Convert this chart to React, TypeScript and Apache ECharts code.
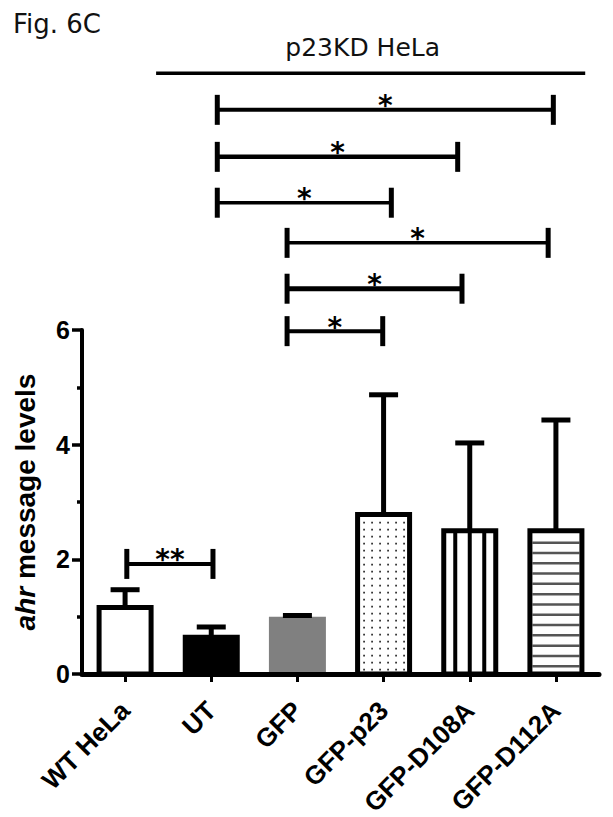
import React, { useEffect, useRef } from 'react';
import * as echarts from 'echarts';

// ---- data ----
const categories = ['WT HeLa', 'UT', 'GFP', 'GFP-p23', 'GFP-D108A', 'GFP-D112A'];
const means = [1.16, 0.64, 1.0, 2.78, 2.5, 2.5];
const sds = [0.31, 0.18, 0.02, 2.09, 1.53, 1.93];
const yMin = 0;
const yMax = 6;
const yInterval = 2;

// significance brackets: endpoints in category-index units, level in axis units
const bracketFrom = [1.07, 1.07, 1.07, 1.88, 1.88, 1.88, 0.02];
const bracketTo = [4.97, 3.86, 3.09, 4.91, 3.91, 2.99, 1.02];
const bracketLevel = [9.84, 9.02, 8.22, 7.52, 6.72, 5.98, 1.92];
const bracketLabel = ['*', '*', '*', '*', '*', '*', '**'];

// group line "p23KD HeLa"
const groupFrom = [0.36];
const groupTo = [5.34];
const groupLevel = [10.48];
const groupLabel = ['p23KD HeLa'];

// ---- styles ----
const barStyles = [
  { fill: '#ffffff', stroke: true, pattern: 'none' },
  { fill: '#000000', stroke: true, pattern: 'none' },
  { fill: '#808080', stroke: false, pattern: 'none' },
  { fill: '#ffffff', stroke: true, pattern: 'dots' },
  { fill: '#ffffff', stroke: true, pattern: 'vlines' },
  { fill: '#ffffff', stroke: true, pattern: 'hlines' },
];
const bracketWidths = [4, 4.5, 3.5, 3.5, 5, 4, 4];
const AX_FONT = '"Liberation Sans", Arial, sans-serif';
const TITLE_FONT = '"DejaVu Sans", sans-serif';

function renderBar(params: any, api: any) {
  const i = api.value(0);
  const v = api.value(1);
  const top = api.coord([i, v]);
  const base = api.coord([i, 0]);
  const cx = top[0];
  const ty = top[1];
  const by = base[1];
  const st = barStyles[i];
  const bw = 52;
  const bw2 = 57;
  const children: any[] = [];
  if (!st.stroke) {
    children.push({
      type: 'rect',
      shape: { x: cx - bw2 / 2, y: ty, width: bw2, height: by - ty },
      style: { fill: st.fill },
    });
    return { type: 'group', children };
  }
  const x0 = cx - bw / 2;
  children.push({
    type: 'rect',
    shape: { x: x0, y: ty, width: bw, height: by - ty },
    style: { fill: st.fill },
  });
  if (st.pattern === 'dots') {
    for (let y = ty + 8; y < by - 3; y += 7) {
      for (let x = x0 + 6.5; x < x0 + bw - 4; x += 8) {
        children.push({
          type: 'rect',
          shape: { x: x - 0.9, y: y - 0.9, width: 1.8, height: 1.8 },
          style: { fill: '#333' },
        });
      }
    }
  } else if (st.pattern === 'vlines') {
    [-14.5, 0, 14.5].forEach((dx) => {
      children.push({
        type: 'line',
        shape: { x1: cx + dx, y1: ty, x2: cx + dx, y2: by },
        style: { stroke: '#000', lineWidth: 4 },
      });
    });
  } else if (st.pattern === 'hlines') {
    for (let y = ty + 12; y < by - 4; y += 10.3) {
      children.push({
        type: 'line',
        shape: { x1: x0 + 2.5, y1: y, x2: x0 + bw - 2.5, y2: y },
        style: { stroke: '#555', lineWidth: 2.5 },
      });
    }
  }
  children.push({
    type: 'rect',
    shape: { x: x0, y: ty, width: bw, height: by - ty },
    style: { fill: 'none', stroke: '#000', lineWidth: 5 },
  });
  return { type: 'group', children };
}

function renderError(params: any, api: any) {
  const i = api.value(0);
  const m = api.value(1);
  const s = api.value(2);
  const p0 = api.coord([i, m]);
  const p1 = api.coord([i, m + s]);
  return {
    type: 'group',
    children: [
      {
        type: 'line',
        shape: { x1: p0[0], y1: p0[1], x2: p1[0], y2: p1[1] },
        style: { stroke: '#000', lineWidth: 5 },
      },
      {
        type: 'line',
        shape: { x1: p1[0] - 14.5, y1: p1[1], x2: p1[0] + 14.5, y2: p1[1] },
        style: { stroke: '#000', lineWidth: 5 },
      },
    ],
  };
}

function renderBracket(params: any, api: any) {
  const idx = params.dataIndex;
  const a = api.coord([api.value(0), api.value(2)]);
  const b = api.coord([api.value(1), api.value(2)]);
  const y = a[1];
  return {
    type: 'group',
    children: [
      {
        type: 'line',
        shape: { x1: a[0], y1: y, x2: b[0], y2: y },
        style: { stroke: '#000', lineWidth: bracketWidths[idx] },
      },
      {
        type: 'line',
        shape: { x1: a[0], y1: y - 15, x2: a[0], y2: y + 15 },
        style: { stroke: '#000', lineWidth: 5 },
      },
      {
        type: 'line',
        shape: { x1: b[0], y1: y - 15, x2: b[0], y2: y + 15 },
        style: { stroke: '#000', lineWidth: 5 },
      },
      {
        type: 'text',
        x: (a[0] + b[0]) / 2,
        y: y - 4,
        style: {
          text: bracketLabel[idx],
          fill: '#000',
          font: 'bold 28px ' + TITLE_FONT,
          align: 'center',
          verticalAlign: 'middle',
          textAlign: 'center',
          textVerticalAlign: 'middle',
        },
      },
    ],
  };
}

function renderGroup(params: any, api: any) {
  const idx = params.dataIndex;
  const a = api.coord([api.value(0), api.value(2)]);
  const b = api.coord([api.value(1), api.value(2)]);
  const y = a[1];
  return {
    type: 'group',
    children: [
      {
        type: 'line',
        shape: { x1: a[0], y1: y, x2: b[0], y2: y },
        style: { stroke: '#000', lineWidth: 3.5 },
      },
      {
        type: 'text',
        x: (a[0] + b[0]) / 2 - 8,
        y: y - 26,
        style: {
          text: groupLabel[idx],
          fill: '#111',
          font: '25px ' + TITLE_FONT,
          align: 'center',
          verticalAlign: 'middle',
          textAlign: 'center',
          textVerticalAlign: 'middle',
        },
      },
    ],
  };
}

export default function App() {
  const ref = useRef<HTMLDivElement>(null);
  useEffect(() => {
    document.body.style.margin = '0';
    const chart = echarts.init(ref.current!, null, { renderer: 'svg' });
    const option: any = {
      animation: false,
      backgroundColor: '#ffffff',
      grid: { left: 82, right: 14, top: 330, bottom: 143, containLabel: false, outerBoundsMode: 'none' },
      graphic: [
        {
          type: 'text',
          left: 13,
          top: 11,
          style: { text: 'Fig. 6C', fill: '#111', font: '26px ' + TITLE_FONT },
        },
      ],
      xAxis: [
        {
          type: 'category',
          data: categories,
          z: 3,
          axisLine: { show: true, onZero: false, lineStyle: { color: '#000', width: 5 } },
          axisTick: { show: true, alignWithLabel: true, length: 8, lineStyle: { color: '#000', width: 3 } },
          axisLabel: {
            interval: 0,
            rotate: 45,
            margin: 32,
            color: '#000',
            fontSize: 26,
            fontWeight: 'bold',
            fontFamily: AX_FONT,
          },
          splitLine: { show: false },
        },
        { type: 'value', min: -0.5, max: 5.5, show: false },
      ],
      yAxis: {
        type: 'value',
        min: yMin,
        max: yMax,
        interval: yInterval,
        z: 3,
        name: '{i|ahr} message levels',
        nameLocation: 'middle',
        nameRotate: 90,
        nameGap: 43,
        nameTextStyle: {
          color: '#000',
          fontSize: 28,
          fontWeight: 'bold',
          fontFamily: AX_FONT,
          rich: {
            i: { color: '#000', fontSize: 28, fontWeight: 'bold', fontStyle: 'italic', fontFamily: AX_FONT },
          },
        },
        axisLine: { show: true, onZero: false, lineStyle: { color: '#000', width: 4 } },
        axisTick: { show: true, length: 10, lineStyle: { color: '#000', width: 3.5 } },
        minorTick: { show: true, splitNumber: 2, length: 5, lineStyle: { color: '#000', width: 3.5 } },
        splitLine: { show: false },
        minorSplitLine: { show: false },
        axisLabel: { color: '#000', fontSize: 25, fontWeight: 'bold', fontFamily: AX_FONT, margin: 12 },
      },
      series: [
        {
          type: 'custom',
          name: 'bars',
          xAxisIndex: 0,
          yAxisIndex: 0,
          renderItem: renderBar,
          encode: { x: 0, y: 1 },
          data: categories.map((c, i) => [i, means[i]]),
          z: 1,
        },
        {
          type: 'custom',
          name: 'errors',
          xAxisIndex: 0,
          yAxisIndex: 0,
          renderItem: renderError,
          encode: { x: 0, y: [1, 2] },
          data: categories.map((c, i) => [i, means[i], sds[i]]),
          z: 2,
          clip: false,
        },
        {
          type: 'custom',
          name: 'brackets',
          xAxisIndex: 1,
          yAxisIndex: 0,
          renderItem: renderBracket,
          encode: { x: [0, 1], y: 2 },
          data: bracketFrom.map((f, i) => [f, bracketTo[i], bracketLevel[i]]),
          clip: false,
          z: 4,
        },
        {
          type: 'custom',
          name: 'group',
          xAxisIndex: 1,
          yAxisIndex: 0,
          renderItem: renderGroup,
          encode: { x: [0, 1], y: 2 },
          data: groupFrom.map((f, i) => [f, groupTo[i], groupLevel[i]]),
          clip: false,
          z: 4,
        },
      ],
    };
    chart.setOption(option);
    return () => chart.dispose();
  }, []);
  return <div ref={ref} style={{ width: 613, height: 817 }} />;
}
